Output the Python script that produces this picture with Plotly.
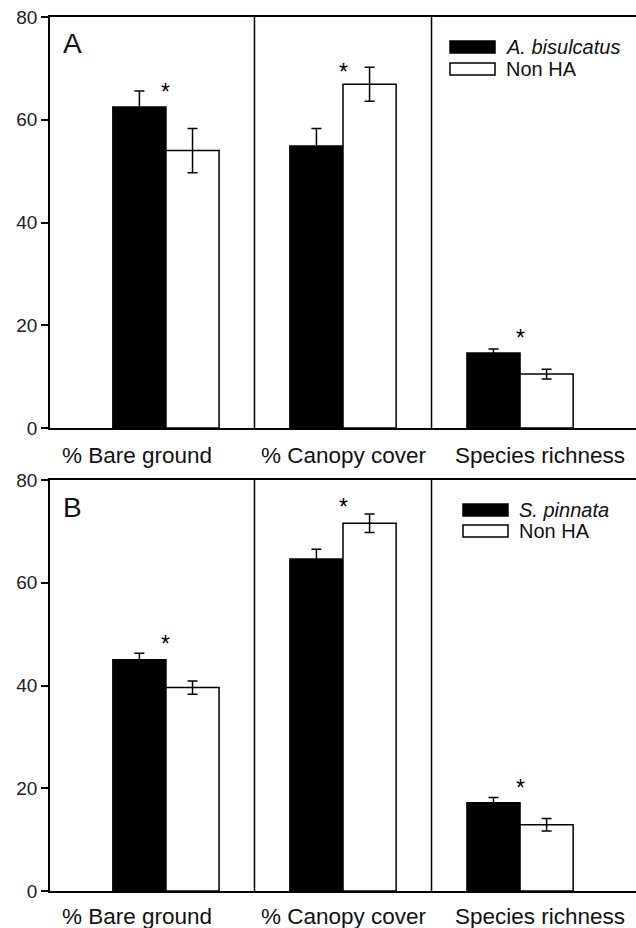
import plotly.graph_objects as go

categories = ["% Bare ground", "% Canopy cover", "Species richness"]
cat_pos = [1, 2, 3]

# Panel A
a_species_name = "A. bisulcatus"
a_ha_vals = [62.5, 54.9, 14.6]
a_ha_err = [3.1, 3.4, 0.8]
a_non_vals = [54.0, 66.9, 10.5]
a_non_err = [4.3, 3.3, 0.95]
a_sig_y = [66.4, 70.3, 18.5]

# Panel B
b_species_name = "S. pinnata"
b_ha_vals = [45.0, 64.6, 17.2]
b_ha_err = [1.3, 1.9, 1.0]
b_non_vals = [39.6, 71.6, 12.9]
b_non_err = [1.3, 1.8, 1.2]
b_sig_y = [49.0, 75.7, 21.0]

y_ticks = [0, 20, 40, 60, 80]

FONT = "Liberation Sans, Arial, sans-serif"
W, H = 636, 928
L, R, T, B = 50, 0, 17, 37
PH = H - T - B  # 874

def py(pix):
    return (H - B - pix) / PH

def px(pix):
    return (pix - L) / (W - L - R)

fig = go.Figure()

def add_panel(xa, ya, ha, hae, non, noe):
    fig.add_trace(go.Bar(
        x=cat_pos, y=ha, xaxis=xa, yaxis=ya,
        marker=dict(color="black", line=dict(color="black", width=1.5)),
        error_y=dict(type="data", array=hae, color="black", thickness=1.5, width=5),
        showlegend=False, hoverinfo="skip"))
    fig.add_trace(go.Bar(
        x=cat_pos, y=non, xaxis=xa, yaxis=ya,
        marker=dict(color="white", line=dict(color="black", width=1.5)),
        error_y=dict(type="data", array=noe, color="black", thickness=1.5, width=5),
        showlegend=False, hoverinfo="skip"))

add_panel("x", "y", a_ha_vals, a_ha_err, a_non_vals, a_non_err)
add_panel("x2", "y2", b_ha_vals, b_ha_err, b_non_vals, b_non_err)

xrange = [0.345, 3.655]
xcommon = dict(range=xrange, showticklabels=False, ticks="", showgrid=False,
               zeroline=False, showline=True, mirror=True, linecolor="black", linewidth=1.5)
ycommon = dict(range=[0, 80], tickvals=y_ticks, ticks="outside", ticklen=7, tickwidth=1.5,
               tickcolor="black", showgrid=False, zeroline=False, showline=True,
               linecolor="black", linewidth=1.5,
               tickfont=dict(family=FONT, size=19, color="#222"))

a_bottom = py(428)
b_top = py(480)

fig.update_layout(
    width=W, height=H,
    margin=dict(l=L, r=R, t=T, b=B),
    paper_bgcolor="white", plot_bgcolor="white",
    barmode="group", bargap=0.4, bargroupgap=0,
    xaxis=dict(**xcommon, domain=[0, 1], anchor="y"),
    yaxis=dict(**ycommon, domain=[a_bottom, 1], anchor="x"),
    xaxis2=dict(**xcommon, domain=[0, 1], anchor="y2"),
    yaxis2=dict(**ycommon, domain=[0, b_top], anchor="x2"),
    font=dict(family=FONT, color="#111"),
)

shapes = []
annotations = []
for xr, yr in [("x", "y"), ("x2", "y2")]:
    for s in [1.5, 2.5]:
        shapes.append(dict(type="line", xref=xr, yref=yr + " domain", x0=s, x1=s, y0=0, y1=1,
                           line=dict(color="black", width=1.5)))

# significance asterisks
for xr, yr, sig in [("x", "y", a_sig_y), ("x2", "y2", b_sig_y)]:
    for xp, yv in zip(cat_pos, sig):
        annotations.append(dict(x=xp, y=yv, xref=xr, yref=yr, text="*", showarrow=False,
                                xanchor="center", yanchor="middle", yshift=-5,
                                font=dict(family=FONT, size=23, color="black")))

# category labels
label_px = [137, 344, 540]
for ypix in [455, 916]:
    for lab, lx in zip(categories, label_px):
        annotations.append(dict(x=px(lx), y=py(ypix), xref="paper", yref="paper", text=lab,
                                showarrow=False, xanchor="center", yanchor="middle",
                                font=dict(family=FONT, size=22.5, color="#111")))

# panel letters
for letter, ypix in [("A", 43), ("B", 507)]:
    annotations.append(dict(x=px(61), y=py(ypix), xref="paper", yref="paper", text=letter,
                            showarrow=False, xanchor="left", yanchor="middle",
                            font=dict(family=FONT, size=28, color="#111")))

# legends
def legend(x0, ya, yb, name):
    shapes.append(dict(type="rect", xref="paper", yref="paper", x0=px(x0), x1=px(x0 + 45),
                       y0=py(ya + 6), y1=py(ya - 6), fillcolor="black",
                       line=dict(color="black", width=1.5)))
    shapes.append(dict(type="rect", xref="paper", yref="paper", x0=px(x0), x1=px(x0 + 45),
                       y0=py(yb + 6), y1=py(yb - 6), fillcolor="white",
                       line=dict(color="black", width=1.5)))
    annotations.append(dict(x=px(x0 + 54), y=py(ya), xref="paper", yref="paper",
                            text="<i>" + name + "</i>", showarrow=False, xanchor="left",
                            yanchor="middle", font=dict(family=FONT, size=20, color="#111")))
    annotations.append(dict(x=px(x0 + 54), y=py(yb), xref="paper", yref="paper",
                            text="Non HA", showarrow=False, xanchor="left",
                            yanchor="middle", font=dict(family=FONT, size=20, color="#111")))

legend(450, 47, 69, a_species_name)
legend(463, 510, 531, b_species_name)

fig.update_layout(shapes=shapes, annotations=annotations)
fig.write_html(
    "out.html",
    config={"displayModeBar": False},
    post_script="document.body.style.margin='0';document.body.style.padding='0';"
                "document.documentElement.style.overflow='hidden';",
)
